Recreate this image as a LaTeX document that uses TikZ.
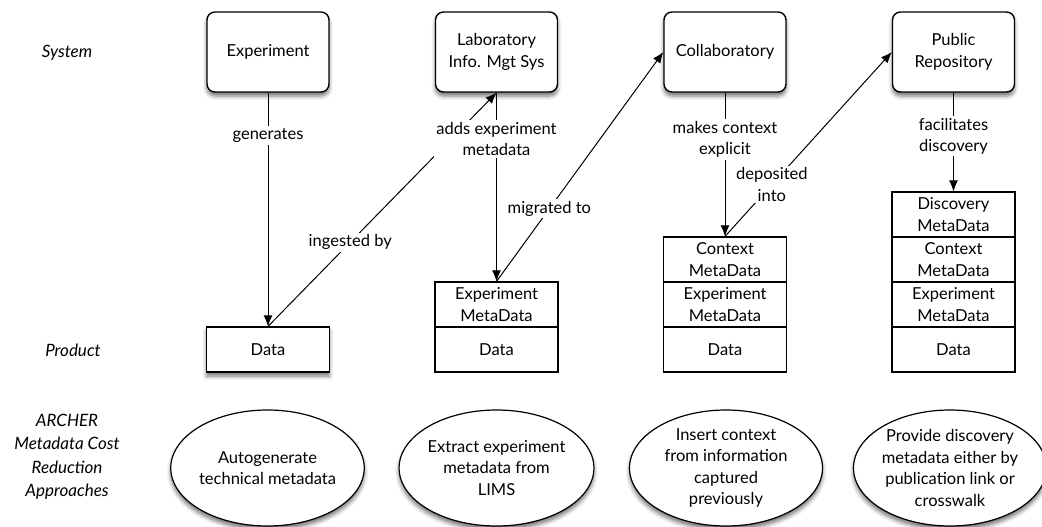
\documentclass[tikz,border=0pt]{standalone}
\usepackage{fontspec}
\setmainfont{Lato}
\usetikzlibrary{arrows.meta,shadows.blur,fit,backgrounds,shapes.geometric}
\begin{document}
\begin{tikzpicture}[x=1pt,y=-1pt,
  every node/.style={font=\fontsize{16.5}{21.5}\selectfont},
  shd/.style={blur shadow={shadow xshift=0pt,shadow yshift=-4pt,shadow blur radius=4pt,shadow opacity=55}},
  sysbox/.style={draw,line width=1.4pt,rounded corners=8pt,fill=white,minimum width=122pt,minimum height=80pt,align=center,inner sep=2pt,shd},
  sect/.style={draw,line width=1.2pt,fill=white,minimum width=123pt,minimum height=45pt,align=center,inner sep=1pt},
  stackbg/.style={fill=white,inner sep=0pt,shd},
  ellbox/.style={ellipse,draw,line width=1.2pt,fill=white,minimum width=193pt,minimum height=116pt,inner sep=0pt,align=center,shd},
  conn/.style={draw,line width=1pt,-{Latex[length=11pt,width=9pt]}},
  lbl/.style={fill=white,inner sep=2pt,align=center},
  rowlbl/.style={font=\fontsize{17}{23.5}\selectfont\itshape,align=center}]
\useasboundingbox (0,0) rectangle (1042,527);

% row labels
\node[rowlbl] (lsys) at (67,53) {System};
\node[rowlbl] (lprod) at (73,350) {Product};
\node[rowlbl] (larch) at (67,457) {ARCHER\\Metadata Cost\\Reduction\\Approaches};

% system boxes
\node[sysbox] (exp) at (268,52) {Experiment};
\node[sysbox] (lims) at (496.5,52) {Laboratory\\Info. Mgt Sys};
\node[sysbox] (col) at (725,52) {Collaboratory};
\node[sysbox] (pub) at (953.5,52) {Public\\Repository};

% product column 1
\node[sect,shd] (d1) at (268,349.5) {Data};

% product column 2
\node[sect] (e2) at (496.5,304.5) {Experiment\\MetaData};
\node[sect] (d2) at (496.5,349.5) {Data};

% product column 3
\node[sect] (c3) at (725,259.5) {Context\\MetaData};
\node[sect] (e3) at (725,304.5) {Experiment\\MetaData};
\node[sect] (d3) at (725,349.5) {Data};

% product column 4
\node[sect] (s4) at (953.5,214.5) {Discovery\\MetaData};
\node[sect] (c4) at (953.5,259.5) {Context\\MetaData};
\node[sect] (e4) at (953.5,304.5) {Experiment\\MetaData};
\node[sect] (d4) at (953.5,349.5) {Data};

\begin{scope}[on background layer]
  \node[stackbg,fit=(e2)(d2)] (bg2) {};
  \node[stackbg,fit=(c3)(d3)] (bg3) {};
  \node[stackbg,fit=(s4)(d4)] (bg4) {};
\end{scope}

% approaches
\node[ellbox] (a1) at (267.5,468) {Autogenerate\\technical metadata};
\node[ellbox] (a2) at (496.5,468) {Extract experiment\\metadata from\\LIMS};
\node[ellbox] (a3) at (726,468) {Insert context\\from information\\captured\\previously};
\node[ellbox] (a4) at (950,468) {Provide discovery\\metadata either by\\publication link or\\crosswalk};

% connectors
\draw[conn] (exp.south) -- node[lbl,pos=0.183] {generates} (d1.north);
\draw[conn] (d1.north) -- node[lbl,pos=0.36] {ingested by} (lims.south);
\draw[conn] (lims.south) -- node[lbl,pos=0.246] {adds experiment\\metadata} (e2.north);
\draw[conn] (e2.north) -- node[lbl,pos=0.317] {migrated to} (col.west);
\draw[conn] (col.south) -- node[lbl,pos=0.324] {makes context\\explicit} (c3.north);
\draw[conn] (c3.north) -- node[lbl,pos=0.281] {deposited\\into} (pub.west);
\draw[conn] (pub.south) -- node[lbl,pos=0.44] {facilitates\\discovery} (s4.north);
\end{tikzpicture}
\end{document}
